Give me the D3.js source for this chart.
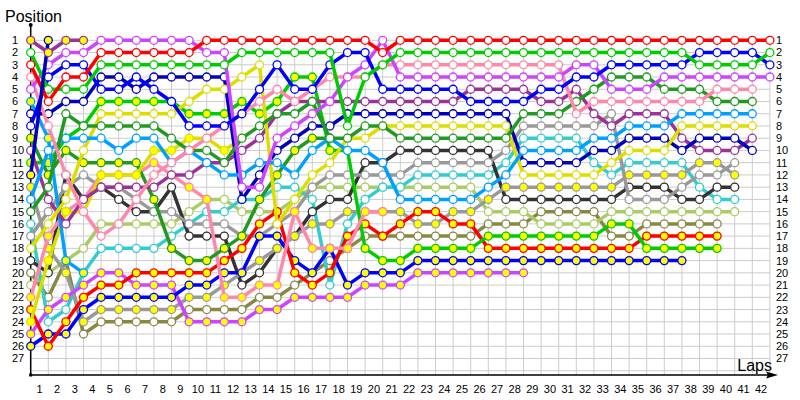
<!DOCTYPE html>
<html><head><meta charset="utf-8">
<script src="https://cdn.jsdelivr.net/npm/d3@7"></script>
<style>body{margin:0;background:#fff} svg{display:block} text{font-family:"Liberation Sans",Arial,sans-serif}</style>
</head><body><svg id="c" width="800" height="400"></svg>
<script>
// lap indices (0 = starting grid) and position ticks
const laps = d3.range(0, 43);
const lapLabels = d3.range(1, 43);
const positions = d3.range(1, 28);

// each series: positions from lap 0 on; array length = laps covered
const red_W    = [3,6,4,4,2,2,2,2,2,2, 1,1,1,1,1,1,1,1,1,1, 2,1,1,1,1,1,1,1,1,1, 1,1,1,1,1,1,1,1,1,1, 1,1,1];
const green_W  = [2,5,5,5,3,3,3,3,3,3, 3,3,2,2,2,2,2,2,8,4, 3,2,2,2,2,2,2,2,2,2, 2,2,2,2,2,2,2,2,3,3, 3,3,2];
const blue_W   = [8,4,3,3,5,5,4,5,6,8, 8,8,7,5,3,5,5,3,2,2, 5,5,5,5,5,6,6,6,6,5, 5,4,4,3,3,3,3,3,2,2, 2,2,3];
const navy_W   = [7,7,6,6,4,4,5,4,4,4, 4,4,14,12,10,9,8,8,7,7, 7,7,7,7,7,7,7,7,11,11, 11,11,10,10,9,9,9,10,9,9, 9,10];
const mag_W    = [5,3,2,2,1,1,1,1,1,1, 2,2,13,13,9,8,7,6,4,3, 1,4,4,4,4,4,4,4,4,4, 4,3,3,5,5,5,4,4,4,4, 4,4,4];
const pink_W   = [4,8,12,15,17,16,14,12,11,10, 9,8,7,6,5,6,5,4,4,4, 3,3,3,3,3,3,3,3,3,3, 3,7,6,6,6,6,6,6,6,5, 5,5];
const dkgreen_W= [15,13,7,8,8,8,8,8,9,10, 10,11,9,8,7,7,6,9,9,8, 8,9,9,9,9,9,9,9,7,7, 7,6,5,4,4,4,5,5,5,6, 6,6];
const ltblue_W = [14,10,9,9,9,10,9,9,11,10, 11,12,12,11,11,12,10,9,10,10, 11,14,14,14,14,14,13,12,10,10, 10,10,9,9,8,8,8,7,7,7, 7,7];
const yellow_W = [18,16,14,10,7,7,7,7,7,6, 5,5,4,3,16,14,12,11,9,9, 8,8,8,8,8,8,8,8,12,12, 12,12,12,11,10,10,10,8,8,8, 8,8];
const purple_W = [10,14,16,14,13,13,13,13,12,12, 11,11,10,9,7,6,6,6,6,6, 6,6,6,6,6,5,5,5,5,6, 6,5,7,8,7,7,7,9,10,10, 10,9];
const gray_W   = [17,15,13,12,13,13,14,15,15,16, 16,16,17,17,16,15,13,12,12,12, 12,12,11,11,11,11,11,10,8,8, 8,8,8,7,14,14,14,13,12,12, 11];
const gray_Y   = [13,18,20,24,23,23,23,23,23,22, 22,21,20,19,18,17,16,16,15,15, 15,15,16,16,15,15,14,13,13,13, 13,13,13,13,12,12,12,12,11,11, 12];
const black_W  = [19,20,12,14,13,14,15,15,13,17, 17,17,21,20,18,17,15,14,14,11, 11,10,10,10,10,10,10,14,14,14, 14,14,14,14,13,13,13,14,14,13, 13];
const cyan_W   = [16,24,23,20,18,18,18,18,17,16, 15,15,14,14,13,13,14,21,16,14, 13,13,12,12,12,12,12,11,9,9, 9,9,11,12,11,11,11,11,13,14, 14];
const ltgreen_W= [21,20,19,18,16,16,16,16,16,15, 14,14,15,15,15,14,13,13,13,13, 13,13,13,13,13,13,15,15,15,16, 16,16,16,15,15,15,15,15,15,15, 15];
const olive_W  = [20,22,19,25,24,24,24,24,24,23, 23,23,23,22,22,21,20,19,18,17, 17,17,17,17,17,17,16,16,16,15, 15,15,15,17,17,16,16,16,16,16];
const red_Y    = [23,26,24,22,21,21,20,20,20,20, 20,19,18,16,15,20,21,20,17,16, 17,16,15,15,16,16,18,18,18,18, 18,18,18,18,18,17,17,17,17,17];
const green_Y  = [11,11,9,8,6,6,6,6,6,7, 7,7,6,7,6,4,4,10,10,18, 19,19,18,18,18,18,17,17,17,17, 17,17,17,16,16,18,18,18,18,18];
const blue_Y   = [26,25,25,23,22,22,22,22,22,21, 21,20,20,17,17,19,20,18,21,20, 20,20,19,19,19,19,19,19,19,19, 19,19,19,19,19,19,19,19];
const mag_Y    = [25,23,22,21,20,20,21,21,21,24, 24,24,24,23,23,22,22,22,22,21, 21,21,20,20,20,20,20,20,20];
const pink_Y   = [22,17,15,14,12,12,12,11,12,13, 14,22,22,21,21,15,18,18,18,15, 15];
const dkgreen_Y= [9,12,10,11,11,11,11,14,18,19, 19,18,17,14,12,10,9,9];
const yellow_Y = [24,19,15,15,12,12,12,10,10,9, 9,10,9];
const ltblue_Y = [6,9,19,20];
const purple_Y = [1,2,1,1];
const navy_Y   = [12,1];

const series = [
  {v: olive_W, c:"#888844", f:"#fff"}, {v: ltgreen_W, c:"#aacc66", f:"#fff"},
  {v: cyan_W, c:"#33cccc", f:"#fff"}, {v: black_W, c:"#333333", f:"#fff"},
  {v: gray_W, c:"#999999", f:"#fff"}, {v: gray_Y, c:"#999999", f:"#ffff00"},
  {v: mag_Y, c:"#cc44ff", f:"#ffff00"}, {v: blue_Y, c:"#0000ff", f:"#ffff00"},
  {v: red_Y, c:"#ff0000", f:"#ffff00"}, {v: green_Y, c:"#00cc00", f:"#ffff00"},
  {v: pink_Y, c:"#ff88aa", f:"#ffff00"}, {v: dkgreen_Y, c:"#229922", f:"#ffff00"},
  {v: yellow_Y, c:"#dddd00", f:"#ffff00"}, {v: ltblue_Y, c:"#00a0ff", f:"#ffff00"},
  {v: purple_W, c:"#993399", f:"#fff"}, {v: navy_W, c:"#0000bb", f:"#fff"},
  {v: yellow_W, c:"#dddd00", f:"#fff"}, {v: ltblue_W, c:"#00a0ff", f:"#fff"},
  {v: dkgreen_W, c:"#229922", f:"#fff"}, {v: pink_W, c:"#ff88aa", f:"#fff"},
  {v: mag_W, c:"#cc44ff", f:"#fff"}, {v: blue_W, c:"#0000ff", f:"#fff"},
  {v: green_W, c:"#00cc00", f:"#fff"}, {v: red_W, c:"#ff0000", f:"#fff"},
  {v: navy_Y, c:"#0000bb", f:"#ffff00"}, {v: purple_Y, c:"#993399", f:"#ffff00"}
];

const svg = d3.select("#c");
const x = d3.scaleLinear().domain([0, 42]).range([30.7, 769.9]);
const y = d3.scaleLinear().domain([1, 27]).range([40.3, 358.5]);
const axisY = 375;

// grid
const g = svg.append("g").attr("stroke", "#cccccc").attr("stroke-width", 1);
laps.forEach(l => g.append("line").attr("x1", x(l)).attr("x2", x(l)).attr("y1", y(1)).attr("y2", axisY));
d3.range(1, 29).forEach(p => g.append("line").attr("x1", x(0)).attr("x2", x(42)).attr("y1", y(p)).attr("y2", y(p)));

// axes
svg.append("line").attr("x1", x(0)).attr("x2", x(0)).attr("y1", 25).attr("y2", axisY).attr("stroke", "#000").attr("stroke-width", 1.5);
svg.append("circle").attr("cx", x(0)).attr("cy", 25).attr("r", 2).attr("fill", "#000");
svg.append("line").attr("x1", x(0)).attr("x2", 772).attr("y1", axisY).attr("y2", axisY).attr("stroke", "#000").attr("stroke-width", 1.5);
svg.append("path").attr("d", `M778,${axisY} L766,${axisY-3.5} L768,${axisY} L766,${axisY+3.5} Z`).attr("fill", "#000");
svg.append("rect").attr("x", x(0)-1.5).attr("y", axisY-1.5).attr("width", 3).attr("height", 3).attr("fill", "#000");

svg.append("text").attr("x", 5).attr("y", 22).attr("font-size", 16).text("Position");
svg.append("text").attr("x", 772).attr("y", 371).attr("font-size", 16).attr("text-anchor", "end").text("Laps");

const lt = svg.append("g").attr("font-size", 11).attr("fill", "#000");
positions.forEach(p => {
  lt.append("text").attr("x", 12).attr("y", y(p)).attr("dy", "0.36em").text(p);
  lt.append("text").attr("x", 776).attr("y", y(p)).attr("dy", "0.36em").text(p);
});
lapLabels.forEach(l => lt.append("text").attr("x", x(l - 0.5)).attr("y", 393).attr("text-anchor", "middle").text(l));

// series
const line = d3.line().x((d, i) => x(i)).y(d => y(d));
series.forEach(s => {
  const sg = svg.append("g");
  sg.append("path").attr("d", line(s.v)).attr("fill", "none").attr("stroke", s.c).attr("stroke-width", 3.5).attr("stroke-linejoin", "round");
  sg.selectAll("circle").data(s.v).join("circle")
    .attr("cx", (d, i) => x(i)).attr("cy", d => y(d)).attr("r", 4)
    .attr("fill", s.f).attr("stroke", s.c).attr("stroke-width", 1.3);
});
</script></body></html>
